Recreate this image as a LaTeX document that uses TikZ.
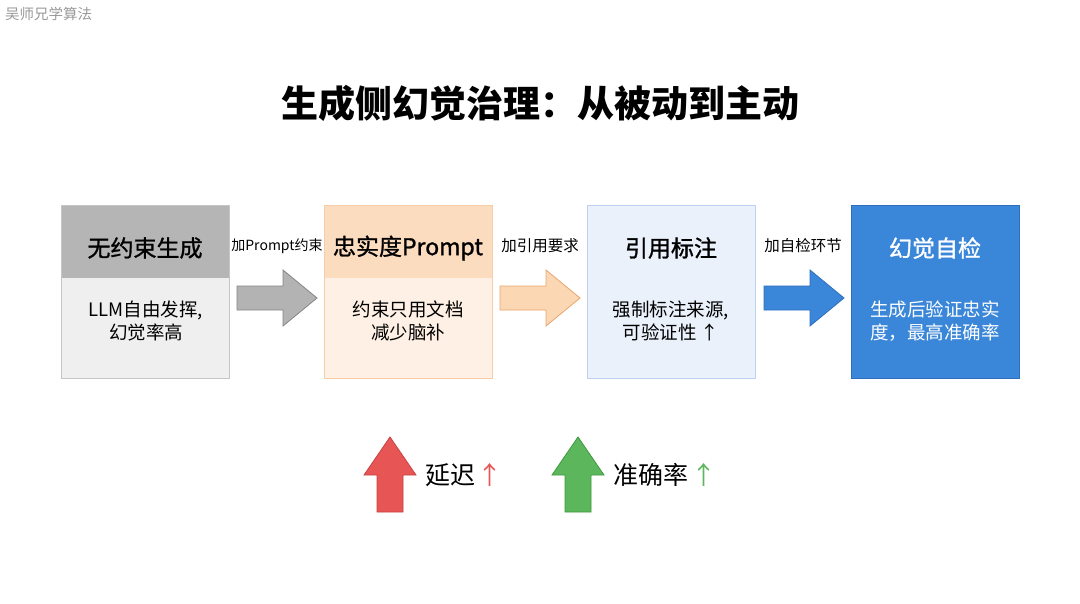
\documentclass[tikz,border=0pt]{standalone}
\usepackage{fontspec}
\setmainfont{Noto Sans CJK SC}
\newfontfamily\medfont[FakeBold=1.2]{Noto Sans CJK SC}
\definecolor{gHdr}{HTML}{B5B5B5}
\definecolor{gBody}{HTML}{EFEFEF}
\definecolor{gLine}{HTML}{C6C6C6}
\definecolor{pHdr}{HTML}{FCDCBF}
\definecolor{pBody}{HTML}{FEF0E4}
\definecolor{pLine}{HTML}{F6CDA6}
\definecolor{bBody}{HTML}{EAF1FB}
\definecolor{bLine}{HTML}{BCD2EE}
\definecolor{dBlue}{HTML}{3A86D8}
\definecolor{dBlueLine}{HTML}{2F6FBF}
\definecolor{arGray}{HTML}{B3B3B3}
\definecolor{arGrayLine}{HTML}{858585}
\definecolor{arPeach}{HTML}{FCD7B4}
\definecolor{arPeachLine}{HTML}{E8A56F}
\definecolor{arRed}{HTML}{E85555}
\definecolor{arRedLine}{HTML}{C84343}
\definecolor{arGreen}{HTML}{5CB75C}
\definecolor{arGreenLine}{HTML}{3F9A3F}
\definecolor{wm}{HTML}{9A9A9A}
\tikzset{
  box/.style={draw, line width=0.8pt, minimum width=168pt, minimum height=173pt, anchor=north west, inner sep=0pt},
  hdrband/.style={minimum width=168pt, minimum height=73pt, anchor=north west, inner sep=0pt},
  hdrtext/.style={font=\medfont\fontsize{23}{28}\selectfont, inner sep=0pt},
  bodytext/.style={font=\fontsize{18.5}{23.5}\selectfont, align=center, inner sep=0pt},
  steplabel/.style={font=\fontsize{15.5}{18}\selectfont, inner sep=0pt},
  keytext/.style={font=\fontsize{25}{30}\selectfont, anchor=west, inner sep=0pt},
  rarrow/.pic={\path[pic actions] (0,-12) -- (46,-12) -- (46,-28) -- (80,0) -- (46,28) -- (46,12) -- (0,12) -- cycle;},
  uarrow/.pic={\path[pic actions] (0,0) -- (26,38) -- (13,38) -- (13,75) -- (-13,75) -- (-13,38) -- (-26,38) -- cycle;}
}
\begin{document}
\begin{tikzpicture}[x=1pt,y=-1pt]
\fill[white] (0,0) rectangle (1080,603);
\useasboundingbox (0,0) rectangle (1080,603);
% watermark
\node[font=\fontsize{14.5}{16}\selectfont, text=wm, anchor=west, inner sep=0pt] (wmark) at (5,14) {吴师兄学算法};
% title
\node[font=\bfseries\fontsize{37}{44}\selectfont, inner sep=0pt] (title) at (540,103) {生成侧幻觉治理：从被动到主动};
% box 1
\node[box, draw=gLine, fill=gBody] (b1) at (61,205) {};
\node[hdrband, fill=gHdr] (h1) at (b1.north west) {};
\draw[gLine, line width=0.8pt] (b1.north west) rectangle (b1.south east);
\node[hdrtext] (t1) at (145,248) {无约束生成};
\node[bodytext] (d1) at (146,321) {LLM自由发挥,\\幻觉率高};
% box 2
\node[box, draw=pLine, fill=pBody] (b2) at (324,205) {};
\node[hdrband, fill=pHdr] (h2) at (b2.north west) {};
\draw[pLine, line width=0.8pt] (b2.north west) rectangle (b2.south east);
\node[hdrtext] (t2) at (408,248) {忠实度Prompt};
\node[bodytext] (d2) at (408,321) {约束只用文档\\减少脑补};
% box 3
\node[box, draw=bLine, fill=bBody] (b3) at (587,205) {};
\node[hdrtext] (t3) at (671,248) {引用标注};
\node[bodytext] (d3) at (671,321) {强制标注来源,\\可验证性 ↑};
% box 4
\node[box, draw=dBlueLine, fill=dBlue] (b4) at (851,205) {};
\node[hdrtext, text=white] (t4) at (935,248) {幻觉自检};
\node[bodytext, text=white] (d4) at (935,321) {生成后验证忠实\\度，最高准确率};
% step labels
\node[steplabel, font=\fontsize{14}{17}\selectfont] (l1) at (277,246) {加Prompt约束};
\node[steplabel] (l2) at (540,246) {加引用要求};
\node[steplabel] (l3) at (803,246) {加自检环节};
% block arrows between boxes
\pic[fill=arGray, draw=arGrayLine, line width=0.8pt] (a1) at (237,298) {rarrow};
\pic[fill=arPeach, draw=arPeachLine, line width=0.8pt] (a2) at (500,298) {rarrow};
\pic[fill=dBlue, draw=dBlueLine, line width=0.8pt] (a3) at (764,298) {rarrow};
% up arrows
\pic[fill=arRed, draw=arRedLine, line width=0.8pt] (u1) at (390,437) {uarrow};
\pic[fill=arGreen, draw=arGreenLine, line width=0.8pt] (u2) at (578,437) {uarrow};
\node[keytext] (k1) at (425,475) {延迟};
\node[keytext, text=arRed] (k1a) at (477,475) {↑};
\node[keytext] (k2) at (613,475) {准确率};
\node[keytext, text=arGreen] (k2a) at (691,475) {↑};
\end{tikzpicture}
\end{document}
